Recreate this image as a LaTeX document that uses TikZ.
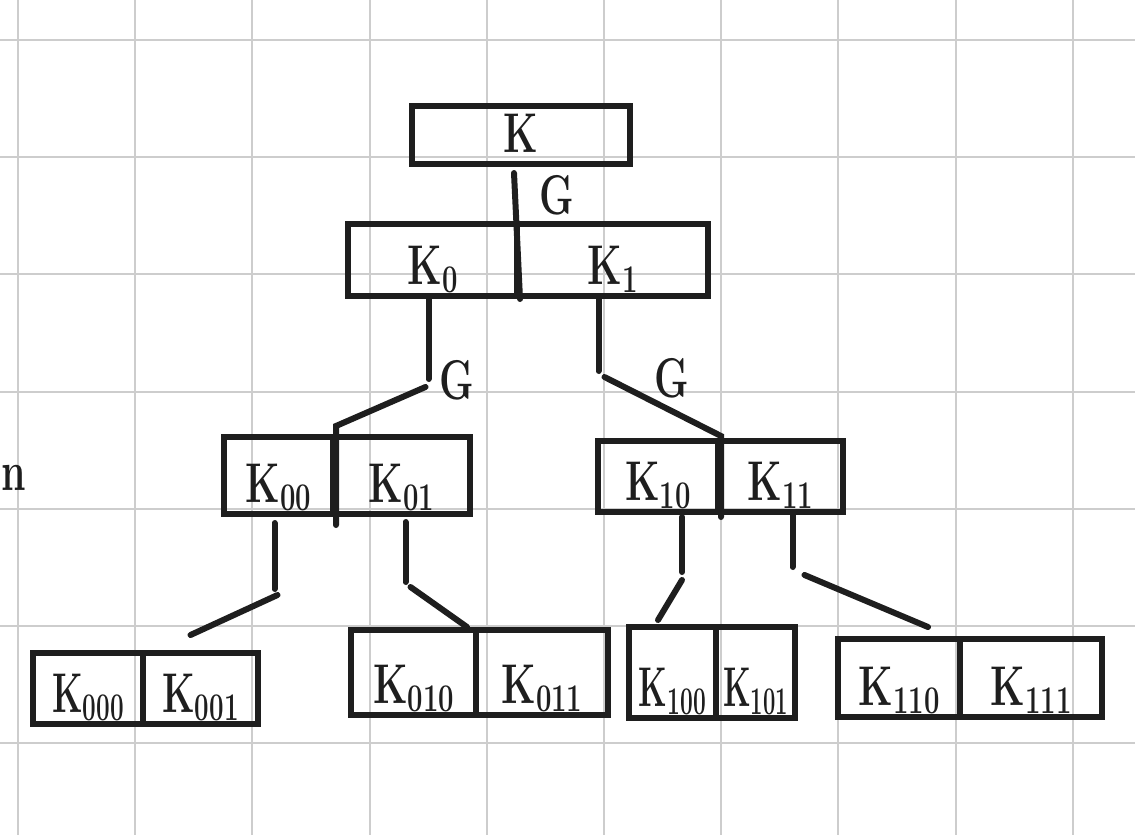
\documentclass[tikz,border=0pt]{standalone}
\usepackage{fontspec}
\usepackage{graphicx}
\usepackage{tikz}
\usetikzlibrary{matrix}
\definecolor{ink}{RGB}{30,30,30}
\definecolor{gridgray}{RGB}{205,205,205}
\newcommand{\hand}[1]{\scalebox{0.7}[1]{#1}}
\newcommand{\kk}[2][0.7]{\scalebox{#1}[1]{K\raisebox{-4pt}{\fontsize{19.6}{20}\selectfont#2}}}
\tikzset{
  cell/.style={draw=ink, line width=3pt, inner sep=0pt, text depth=6pt, align=center,
    text=ink, font=\fontsize{28}{30}\selectfont\bfseries},
  pair/.style={matrix of nodes, row sep=-3pt, column sep=-3pt},
  wire/.style={draw=ink, line width=3pt, line cap=round},
  tag/.style={inner sep=0pt, text=ink, font=\fontsize{28}{30}\selectfont\bfseries},
  gridline/.style={draw=gridgray, line width=1pt}
}

\begin{document}
\begin{tikzpicture}[x=0.5pt, y=-0.5pt]
  \fill[white] (0,0) rectangle (1135,835);
  \useasboundingbox (0,0) rectangle (1135,835);
  % paper grid
  \foreach \gx in {0,...,9}
    \draw[gridline] ({18+117.2*\gx},0) -- ({18+117.2*\gx},835);
  \foreach \gy in {0,...,6}
    \draw[gridline] (0,{40+117.2*\gy}) -- (1135,{40+117.2*\gy});

  \node[tag] (side) at (14,478) {\hand{n}};

  % the boxes
  \node[cell, minimum width=109pt, text height=23pt] (root) at (521,135) {\hand{K}};
  \matrix (mK) [pair, nodes={cell, text height=30pt}] at (528,260) {
    |[text width=84.5pt]| \kk{0} & |[text width=95.5pt]| \kk{1} \\
  };
  \matrix (mK0) [pair, nodes={cell, text height=32.5pt}] at (347,475.5) {
    |[text width=54.5pt]| \kk{00} & |[text width=68.5pt]| \kk{01} \\
  };
  \matrix (mK1) [pair, nodes={cell, text height=29.5pt}] at (720.5,476.5) {
    |[text width=60pt]| \kk{10} & |[text width=62.5pt]| \kk{11} \\
  };
  \matrix (mK00) [pair, nodes={cell, text height=29.5pt}] at (145.5,688.5) {
    |[text width=55pt]| \kk[0.62]{000} & |[text width=57.5pt]| \kk[0.66]{001} \\
  };
  \matrix (mK01) [pair, nodes={cell, text height=36.5pt}] at (479.5,672.5) {
    |[text width=62.5pt]| \kk{010} & |[text width=66pt]| \kk{011} \\
  };
  \matrix (mK10) [pair, nodes={cell, text height=39.5pt}] at (712,672.5) {
    |[text width=43.5pt]| \kk[0.58]{100} & |[text width=39.5pt]| \kk[0.56]{101} \\
  };
  \matrix (mK11) [pair, nodes={cell, text height=33pt}] at (970,678) {
    |[text width=61pt]| \kk{110} & |[text width=71pt]| \kk{111} \\
  };

  % K -> K0 | K1
  \draw[wire] ([xshift=-3.5pt,yshift=-3pt]root.south) -- (mK-1-1.south east);
  \node[tag] (g0) at (557,195) {\hand{G}};

  % K0 -> K00 | K01
  \coordinate (j0) at ([xshift=-2pt,yshift=-40pt]mK-1-1.south);
  \draw[wire] ([xshift=-2pt]mK-1-1.south) -- (j0);
  \draw[wire] ([xshift=-1.5pt,yshift=-4pt]j0) -- ([yshift=4pt]mK0-1-1.north east)
    -- ([yshift=-4pt]mK0-1-1.south east);
  \node[tag] (g1) at (457,380) {\hand{G}};

  % K1 -> K10 | K11
  \coordinate (j1) at ([xshift=-7pt,yshift=-36pt]mK-1-2.south);
  \draw[wire] ([xshift=-7pt]mK-1-2.south) -- (j1);
  \draw[wire] ([xshift=3pt,yshift=-3pt]j1) -- ([yshift=1pt]mK1-1-1.north east)
    -- ([yshift=-1pt]mK1-1-1.south east);
  \node[tag] (g2) at (672,378) {\hand{G}};

  % third level
  \coordinate (j00) at ([xshift=-2pt,yshift=-36pt]mK0-1-1.south);
  \draw[wire] ([xshift=-2pt,yshift=-3pt]mK0-1-1.south) -- (j00);
  \draw[wire] ([xshift=1.5pt,yshift=-3pt]j00) -- ([xshift=-5pt,yshift=7.5pt]mK00-1-2.north);

  \coordinate (j01) at ([xshift=2pt,yshift=-32.5pt]mK0-1-2.south);
  \draw[wire] ([xshift=2pt,yshift=-2.5pt]mK0-1-2.south) -- (j01);
  \draw[wire] ([xshift=2.5pt,yshift=-2.5pt]j01) -- ([xshift=-6pt]mK01-1-1.north east);

  \coordinate (j10) at ([xshift=12pt,yshift=-28.5pt]mK1-1-1.south);
  \draw[wire] ([xshift=12pt,yshift=-1pt]mK1-1-1.south) -- (j10);
  \draw[wire] ([yshift=-4pt]j10) -- ([xshift=-7.25pt,yshift=2pt]mK10-1-1.north);

  \coordinate (j11) at ([xshift=6pt,yshift=-26pt]mK1-1-2.south);
  \draw[wire] ([xshift=6pt]mK1-1-2.south) -- (j11);
  \draw[wire] ([xshift=6pt,yshift=-4pt]j11) -- ([xshift=14.5pt,yshift=4.5pt]mK11-1-1.north);
\end{tikzpicture}
\end{document}
